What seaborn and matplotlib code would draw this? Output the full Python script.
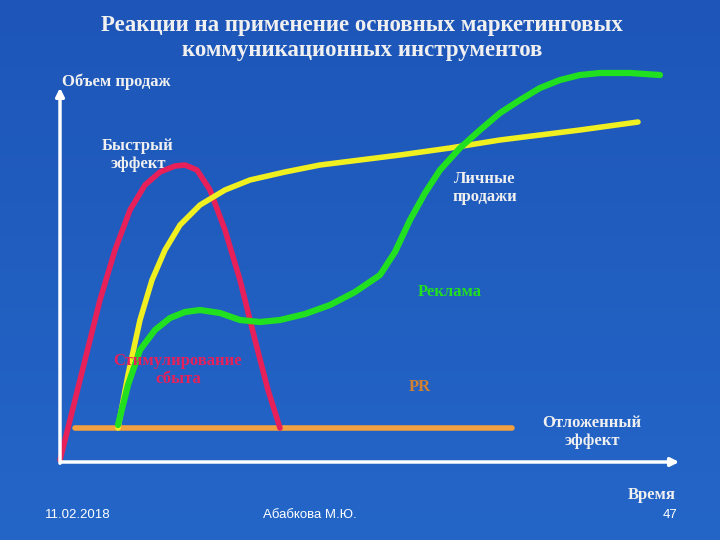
import numpy as np
import matplotlib
matplotlib.use("Agg")
import matplotlib.pyplot as plt
import seaborn as sns

sns.set_theme(style="white")
plt.rcParams['font.family'] = ['DejaVu Sans']

# curve points (pixel coordinates, y downwards)
red_x = [60, 80, 100, 115, 130, 145, 160, 175, 185, 197, 210, 225, 240, 255, 268, 280]
red_y = [460, 380, 300, 250, 210, 185, 172, 166, 165, 170, 190, 230, 280, 340, 390, 428]
yellow_x = [118, 128, 140, 152, 165, 180, 200, 225, 250, 285, 320, 360, 400, 450, 500, 580, 638]
yellow_y = [428, 375, 320, 280, 250, 225, 205, 190, 180, 172, 165, 160, 155, 148, 140, 130, 122]
green_x = [118, 128, 140, 155, 170, 185, 200, 220, 240, 260, 280, 305, 330, 355, 380, 395, 410, 425, 440, 460, 480, 500, 520, 540, 560, 580, 600, 630, 660]
green_y = [425, 385, 350, 330, 318, 312, 310, 313, 320, 322, 320, 314, 305, 292, 275, 252, 220, 193, 170, 148, 130, 113, 100, 88, 80, 75, 73, 73, 75]
orange_x = [75, 512]
orange_y = [428, 428]

fig = plt.figure(figsize=(7.2, 5.4), dpi=100)
ax = fig.add_axes([0, 0, 1, 1])
ax.set_xlim(0, 720)
ax.set_ylim(540, 0)
ax.axis('off')

# blue background gradient
grad = np.linspace(0, 1, 256).reshape(-1, 1)
ax.imshow(grad, extent=[0, 720, 540, 0], aspect='auto', zorder=0,
          cmap=matplotlib.colors.LinearSegmentedColormap.from_list('bg', ['#1d56b8', '#2466c8']))

# axes arrows
ax.annotate('', xy=(60, 85), xytext=(60, 466),
            arrowprops=dict(arrowstyle='-|>', color='white', lw=2.5))
ax.annotate('', xy=(682, 462), xytext=(58, 462),
            arrowprops=dict(arrowstyle='-|>', color='white', lw=2.5))

sns.lineplot(x=orange_x, y=orange_y, color='#f0a040', lw=4, ax=ax, sort=False)
sns.lineplot(x=red_x, y=red_y, color='#e8205a', lw=4, ax=ax, sort=False)
sns.lineplot(x=yellow_x, y=yellow_y, color='#f0f020', lw=4, ax=ax, sort=False)
sns.lineplot(x=green_x, y=green_y, color='#20e020', lw=4.5, ax=ax, sort=False)

serif = 'Liberation Serif'
ax.text(362, 38, 'Реакции на применение основных маркетинговых\nкоммуникационных инструментов',
        ha='center', va='center', color='#f0f0f0', fontsize=16.5, fontweight='bold',
        family=serif, linespacing=1.2)
lab = dict(fontsize=12, family=serif, fontweight='bold')
ax.text(62, 82, 'Объем продаж', color='#f0f0f0', va='center', **lab)
ax.text(138, 155, 'Быстрый\nэффект', color='#f0f0f0', ha='center', va='center', **lab)
ax.text(485, 188, 'Личные\nпродажи', color='#f0f0f0', ha='center', va='center', **lab)
ax.text(450, 292, 'Реклама', color='#20e020', ha='center', va='center', **lab)
ax.text(178, 370, 'Стимулирование\nсбыта', color='#e8205a', ha='center', va='center', **lab)
ax.text(420, 387, 'PR', color='#d08030', ha='center', va='center', **lab)
ax.text(592, 432, 'Отложенный\nэффект', color='#f0f0f0', ha='center', va='center', **lab)
ax.text(652, 495, 'Время', color='#f0f0f0', ha='center', va='center', **lab)
ax.text(78, 515, '11.02.2018', color='white', fontsize=9.5, family='Liberation Sans', ha='center', va='center')
ax.text(310, 515, 'Абабкова М.Ю.', color='white', fontsize=9.5, family='Liberation Sans', ha='center', va='center')
ax.text(670, 515, '47', color='white', fontsize=9.5, family='Liberation Sans', ha='center', va='center')

fig.savefig('out.png', dpi=100)
